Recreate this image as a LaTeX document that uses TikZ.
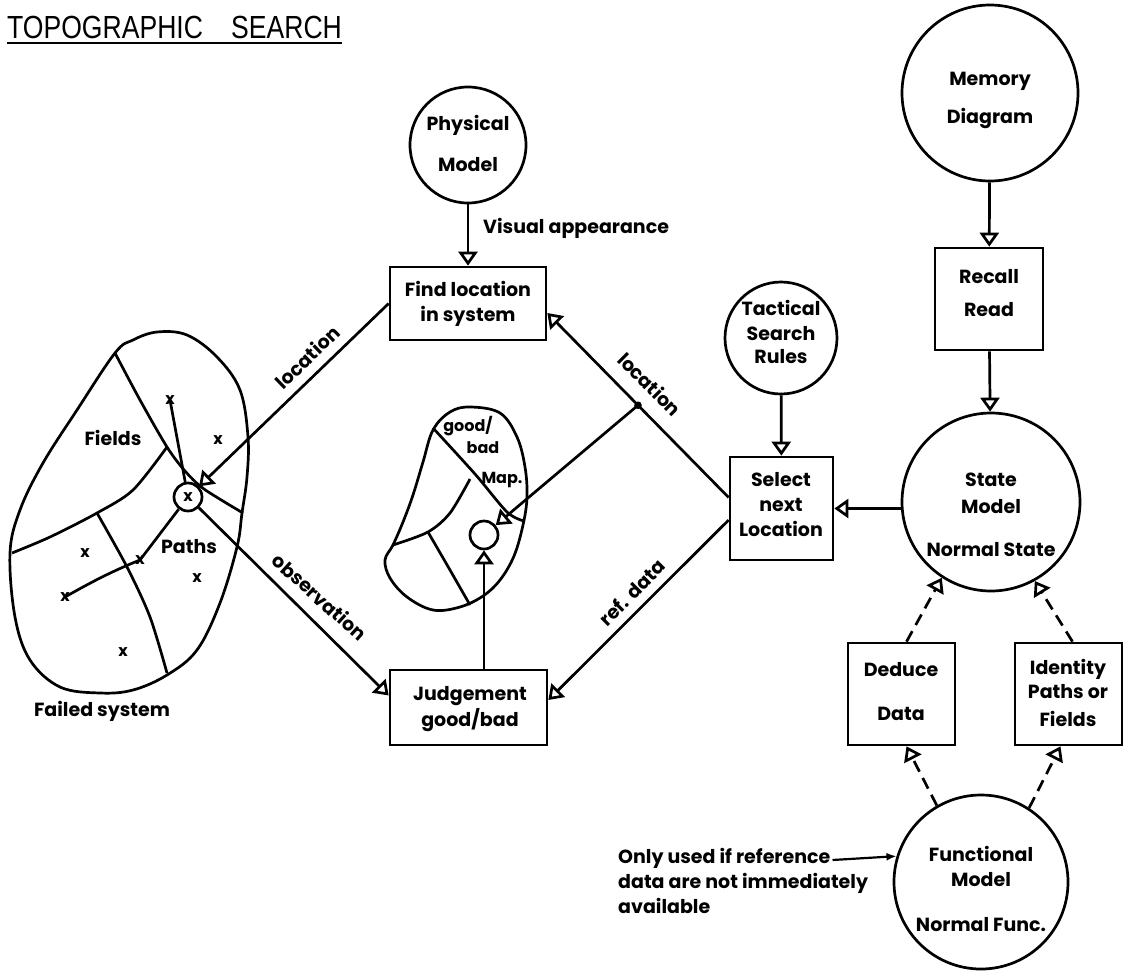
\documentclass[tikz,border=0pt]{standalone}
\usepackage{fontspec}
\setmainfont{Poppins}
\newfontfamily\titlefont{Liberation Sans}
\usetikzlibrary{arrows.meta,calc}
\begin{document}
\begin{tikzpicture}[x=1pt,y=-1pt,
  every node/.style={font=\fontsize{19}{22}\selectfont\bfseries},
  ln/.style={line width=2.7pt},
  arr/.style={ln,-{Triangle[open,length=14pt,width=19pt]}},
  darr/.style={arr,dash pattern=on 12pt off 7pt},
  boxn/.style={draw,line width=2.7pt,inner sep=0pt},
  circn/.style={draw,circle,line width=2.7pt,inner sep=0pt},
  txt/.style={inner sep=0pt,text height=0.7em,text depth=0pt},
  small/.style={txt,font=\fontsize{16}{18}\selectfont\bfseries},
  xm/.style={inner sep=0pt,font=\fontsize{16}{18}\selectfont\bfseries},
  ]
\useasboundingbox (0,0) rectangle (1133,970);

% title
\node[inner sep=0pt,anchor=base west,font=\titlefont\fontsize{32}{36}\selectfont] (title) at (7,38)
  {\scalebox{0.83}[1]{TOPOGRAPHIC\hspace{34pt}SEARCH}};
\draw[line width=2.6pt] ([yshift=-5pt]title.base west) -- ([yshift=-5pt]title.base east);

% shapes
\node[circn,minimum size=116pt] (phys) at (468,145) {};
\node[circn,minimum size=176pt] (mem) at (990,93) {};
\node[circn,minimum size=112pt] (tac) at (781,338) {};
\node[circn,minimum size=178pt] (state) at (991,502) {};
\node[circn,minimum size=174pt] (func) at (981,882) {};
\node[circn,minimum size=28pt] (fc) at (188,497) {};
\node[circn,minimum size=28pt] (mc) at (484,535) {};

\node[boxn,minimum width=156pt,minimum height=73pt] (find) at (468,303.5) {};
\node[boxn,minimum width=157pt,minimum height=75pt] (judge) at (468.5,707.5) {};
\node[boxn,minimum width=103pt,minimum height=103pt] (sel) at (781.5,508.5) {};
\node[boxn,minimum width=108pt,minimum height=102pt] (recall) at (989,299) {};
\node[boxn,minimum width=107pt,minimum height=102pt] (ded) at (901.5,694) {};
\node[boxn,minimum width=107pt,minimum height=102pt] (iden) at (1068.5,694) {};

% texts
\node[txt] (tp1) at (468,127) {Physical};
\node[txt] (tp2) at (468,168) {Model};
\node[txt,anchor=west] (tva) at (483,230) {Visual appearance};
\node[txt] (tf1) at (468,293) {Find location};
\node[txt] (tf2) at (468,318) {in system};
\node[txt] (tm1) at (990,82) {Memory};
\node[txt] (tm2) at (990,120) {Diagram};
\node[txt] (tr1) at (989,280) {Recall};
\node[txt] (tr2) at (989,313) {Read};
\node[txt] (tt1) at (781,312) {Tactical};
\node[txt] (tt2) at (781,337) {Search};
\node[txt] (tt3) at (781,360) {Rules};
\node[txt] (ts1) at (781,483) {Select};
\node[txt] (ts2) at (781,508) {next};
\node[txt] (ts3) at (781,533) {Location};
\node[txt] (tsm1) at (991,483) {State};
\node[txt] (tsm2) at (991,510) {Model};
\node[txt] (tsm3) at (991,553) {Normal State};
\node[txt] (tj1) at (470,697) {Judgement};
\node[txt] (tj2) at (470,723) {good/bad};
\node[txt] (td1) at (901,673) {Deduce};
\node[txt] (td2) at (901,717) {Data};
\node[txt] (ti1) at (1068,671) {Identity};
\node[txt] (ti2) at (1068,695) {Paths or};
\node[txt] (ti3) at (1068,723) {Fields};
\node[txt] (tfm1) at (981,858) {Functional};
\node[txt] (tfm2) at (981,883) {Model};
\node[txt] (tfm3) at (981,928) {Normal Func.};
\node[txt,anchor=west] (n1) at (618,860) {Only used if reference};
\node[txt,anchor=west] (n2) at (618,885) {data are not immediately};
\node[txt,anchor=west] (n3) at (618,910) {available};
\node[txt] (tfs) at (102,713) {Failed system};
\node[txt] (tfi) at (113,442) {Fields};
\node[txt] (tpa) at (189,550) {Paths};
\node[small] (tg1) at (468,428) {good/};
\node[small] (tg2) at (483,450) {bad};
\node[small] (tg3) at (502,480) {Map.};

% failed system blob
\draw[ln] plot[smooth cycle,tension=0.6] coordinates {(115,353) (133,340) (157,332) (187,335) (217,357) (240,390) (248,437) (247,477) (242,513) (237,547) (220,603) (197,650) (167,675) (133,690) (100,693) (60,687) (30,660) (15,617) (10,553) (20,510) (43,463) (77,410)};
\draw[ln] plot[smooth] coordinates {(115,353) (140,400) (167,447) (185,471) (204,489) (243,513)};
\draw[ln] plot[smooth] coordinates {(167,447) (133,490) (97,513) (50,537) (12,553)};
\draw[ln] plot[smooth] coordinates {(97,513) (127,567) (150,617) (167,673)};
\draw[ln] (170,400) -- (fc);
\draw[ln] (fc) -- (140,560) .. controls (110,572) and (88,584) .. (65,597);
\node[xm] (x1) at (170,400) {x};
\node[xm] (x2) at (218,440) {x};
\node[xm] (x3) at (85,553) {x};
\node[xm] (x4) at (140,560) {x};
\node[xm] (x5) at (197,578) {x};
\node[xm] (x6) at (123,652) {x};
\node[xm] (x7) at (65,597) {x};
\node[xm] (x8) at (188,497) {x};

% map blob
\draw[ln] plot[smooth cycle,tension=0.6] coordinates {(470,407) (500,413) (517,437) (525,467) (527,497) (523,525) (514,556) (500,580) (483,596) (460,607) (433,610) (407,597) (390,578) (385,560) (393,545) (403,522) (413,495) (423,462) (433,430) (450,412)};
\draw[ln] plot[smooth] coordinates {(433,428) (475,474) (507,512) (524,521)};
\draw[ln] plot[smooth] coordinates {(470,479) (450,513) (428,532) (393,545)};
\draw[ln] plot[smooth] coordinates {(428,532) (450,570) (470,605)};

% connectors
\draw[arr] (phys) -- (find);
\draw[arr] (mem) -- (recall);
\draw[arr] (recall) -- (state);
\draw[arr] (tac) -- (sel);
\draw[arr] (sel.east -| state.west) -- (sel.east);
\coordinate (selA) at ([yshift=11pt]sel.west);
\coordinate (findA) at ([yshift=-9.5pt]find.east);
\coordinate (j) at ($(selA)!0.5!(findA)$);
\draw[arr] (selA) -- (findA);
\fill (j) circle (3.8pt);
\draw[arr] (j) -- (mc);
\draw[arr] ([yshift=-11.5pt]sel.west) -- ([yshift=7.5pt]judge.east);
\draw[arr] (mc |- judge.north) -- (mc);
\draw[arr] (find.west) -- (fc);
\draw[arr] (fc) -- ([yshift=12pt]judge.west);
\draw[darr] ([xshift=5pt]ded.north) -- (state.-123);
\draw[darr] ([xshift=4pt]iden.north) -- (state.-61);
\draw[darr] (func.120) -- ([xshift=5pt]ded.south);
\draw[darr] (func.57) -- ([xshift=-8pt]iden.south);
\draw[line width=2.2pt,-{Latex[length=10pt,width=8pt]}] ([xshift=2pt]n1.east) -- (func.163);

% connector labels
\node[txt,rotate=44] (l1) at (310,360) {location};
\node[txt,rotate=-42] (l2) at (317,600) {observation};
\node[txt,rotate=-45] (l3) at (647,387) {location};
\node[txt,rotate=45] (l4) at (635,595) {ref. data};
\end{tikzpicture}
\end{document}
